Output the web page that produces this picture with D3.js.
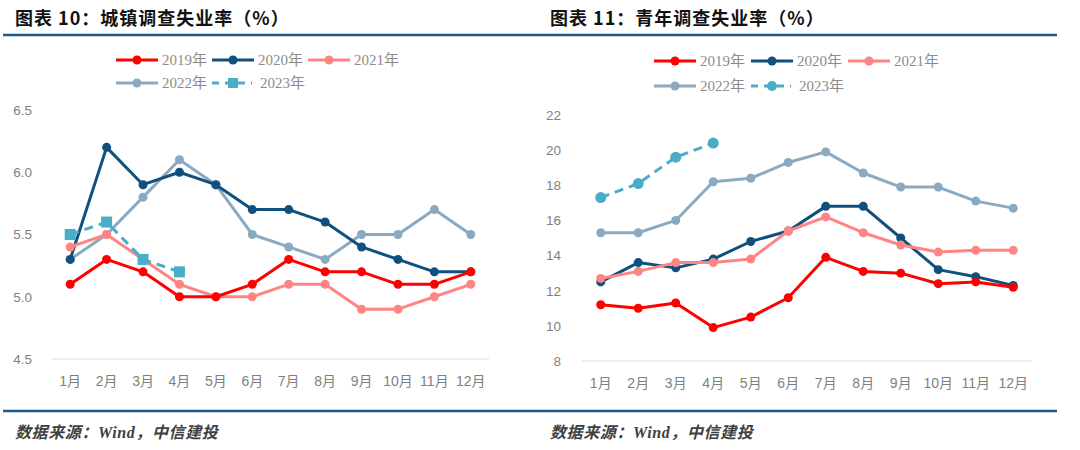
<!DOCTYPE html>
<html><head><meta charset="utf-8">
<script src="https://cdn.jsdelivr.net/npm/d3@7"></script>
<style>
html,body{margin:0;padding:0;background:#fff;}
svg{display:block;}
</style></head>
<body>
<svg id="chart" width="1080" height="450"></svg>
<script>
// ---- data ----
const months = ["1月","2月","3月","4月","5月","6月","7月","8月","9月","10月","11月","12月"];
const years = ["2019年","2020年","2021年","2022年","2023年"];
const colors = ["#ff0000","#10507f","#ff8585","#8aaac2","#4aadc8"];

const urban2019 = [5.1,5.3,5.2,5.0,5.0,5.1,5.3,5.2,5.2,5.1,5.1,5.2];
const urban2020 = [5.3,6.2,5.9,6.0,5.9,5.7,5.7,5.6,5.4,5.3,5.2,5.2];
const urban2021 = [5.4,5.5,5.3,5.1,5.0,5.0,5.1,5.1,4.9,4.9,5.0,5.1];
const urban2022 = [5.3,5.5,5.8,6.1,5.9,5.5,5.4,5.3,5.5,5.5,5.7,5.5];
const urban2023 = [5.5,5.6,5.3,5.2];
const urbanTicks = ["4.5","5.0","5.5","6.0","6.5"];

const youth2019 = [11.2,11.0,11.3,9.9,10.5,11.6,13.9,13.1,13.0,12.4,12.5,12.2];
const youth2020 = [12.5,13.6,13.3,13.8,14.8,15.4,16.8,16.8,15.0,13.2,12.8,12.3];
const youth2021 = [12.7,13.1,13.6,13.6,13.8,15.4,16.2,15.3,14.6,14.2,14.3,14.3];
const youth2022 = [15.3,15.3,16.0,18.2,18.4,19.3,19.9,18.7,17.9,17.9,17.1,16.7];
const youth2023 = [17.3,18.1,19.6,20.4];
const youthTicks = ["8","10","12","14","16","18","20","22"];

const svg = d3.select("#chart");

// header and footer rules
svg.append("line").attr("x1",3).attr("x2",1057).attr("y1",35).attr("y2",35)
  .attr("stroke","#1d5a8c").attr("stroke-width",2.5);
svg.append("line").attr("x1",3).attr("x2",1057).attr("y1",411).attr("y2",411)
  .attr("stroke","#1d5a8c").attr("stroke-width",2.5);

function panel(opts){
  const g = svg.append("g").attr("transform",`translate(${opts.ox},0)`);
  // title
  g.append("text").attr("x",opts.titleX).attr("y",25)
    .attr("font-family","'Noto Sans CJK SC', sans-serif").attr("font-weight",700)
    .attr("font-size",18).attr("letter-spacing",1).attr("fill","#111").text(opts.title);
  // source
  g.append("text").attr("x",opts.titleX).attr("y",438)
    .attr("font-family","'Liberation Serif','Noto Sans CJK SC', serif").attr("font-style","italic")
    .attr("font-weight",700).attr("letter-spacing",0.6)
    .attr("font-size",16).attr("fill","#404040").text("数据来源：Wind，中信建投");

  const x = d3.scaleBand().domain(months).range([opts.x0,opts.x1]);
  const ticksNum = opts.ticks.map(Number);
  const y = d3.scaleLinear().domain([ticksNum[0],ticksNum[ticksNum.length-1]]).range([opts.yBottom,opts.yTop]);

  // baseline gridline
  g.append("line").attr("x1",opts.x0).attr("x2",opts.x1)
    .attr("y1",y(ticksNum[0])).attr("y2",y(ticksNum[0]))
    .attr("stroke","#d9d9d9").attr("stroke-width",1.2);

  // y axis
  const ya = g.append("g").attr("transform",`translate(${opts.yLabelX},0)`)
    .call(d3.axisLeft(y).tickValues(ticksNum).tickSize(0).tickFormat((d,i)=>opts.ticks[i]));
  ya.select(".domain").remove();
  ya.selectAll("text").attr("font-family","'Liberation Sans', Arial, sans-serif")
    .attr("font-size",13.5).attr("fill","#7f7f7f").attr("dx",0);

  // x axis
  const xa = g.append("g").attr("transform",`translate(0,${opts.xLabelY})`)
    .call(d3.axisBottom(x).tickSize(0));
  xa.select(".domain").remove();
  xa.selectAll("text").attr("font-family","'Liberation Sans','Noto Sans CJK SC', sans-serif")
    .attr("font-size",14).attr("fill","#7f7f7f").attr("dy",0);

  const cx = (i)=> x(months[i]) + x.bandwidth()/2;
  const line = d3.line().x((d,i)=>cx(i)).y(d=>y(d));

  const order = [3,1,2,0,4];
  order.forEach(k=>{
    const data = opts.series[k];
    const dashed = k===4;
    g.append("path").datum(data).attr("d",line).attr("fill","none")
      .attr("stroke",colors[k]).attr("stroke-width",3)
      .attr("stroke-linejoin","round")
      .attr("stroke-dasharray",dashed?"9,6":null);
    if(dashed && opts.square){
      g.selectAll(null).data(data).enter().append("rect")
        .attr("x",(d,i)=>cx(i)-5.5).attr("y",d=>y(d)-5.5)
        .attr("width",11).attr("height",11).attr("fill",colors[k]);
    } else {
      g.selectAll(null).data(data).enter().append("circle")
        .attr("cx",(d,i)=>cx(i)).attr("cy",d=>y(d))
        .attr("r",dashed?5.5:4.5).attr("fill",colors[k]);
    }
  });

  // legend
  const lg = opts.legend;
  years.forEach((name,k)=>{
    const row = k<3?0:1, col = k<3?k:k-3;
    const lx = lg.x + col*lg.dx, ly = lg.y + row*lg.dy;
    const dashed = k===4;
    if(dashed){
      g.append("line").attr("x1",lx).attr("x2",lx+40).attr("y1",ly).attr("y2",ly)
        .attr("stroke",colors[k]).attr("stroke-width",3).attr("stroke-dasharray","7,6");
      if(opts.square){
        g.append("rect").attr("x",lx+21-5).attr("y",ly-5).attr("width",10).attr("height",10).attr("fill",colors[k]);
      } else {
        g.append("circle").attr("cx",lx+21).attr("cy",ly).attr("r",5).attr("fill",colors[k]);
      }
    } else {
      g.append("line").attr("x1",lx).attr("x2",lx+42).attr("y1",ly).attr("y2",ly)
        .attr("stroke",colors[k]).attr("stroke-width",3);
      g.append("circle").attr("cx",lx+21).attr("cy",ly).attr("r",4.5).attr("fill",colors[k]);
    }
    g.append("text").attr("x",lx+(dashed?48:46)).attr("y",ly+5)
      .attr("font-family","'Liberation Serif','Noto Sans CJK SC', serif")
      .attr("font-size",15).attr("fill","#8c8c8c").text(name);
  });
}

panel({
  ox:0, titleX:15, title:"图表 10：城镇调查失业率（%）",
  x0:52, x1:489, yTop:110, yBottom:359, yLabelX:35, xLabelY:383,
  ticks:urbanTicks, series:[urban2019,urban2020,urban2021,urban2022,urban2023],
  square:true, legend:{x:116,y:60,dx:96,dy:23}
});
panel({
  ox:540, titleX:10, title:"图表 11：青年调查失业率（%）",
  x0:42, x1:492, yTop:115, yBottom:361, yLabelX:24, xLabelY:385,
  ticks:youthTicks, series:[youth2019,youth2020,youth2021,youth2022,youth2023],
  square:false, legend:{x:114,y:61,dx:97,dy:25}
});
</script>
</body></html>
